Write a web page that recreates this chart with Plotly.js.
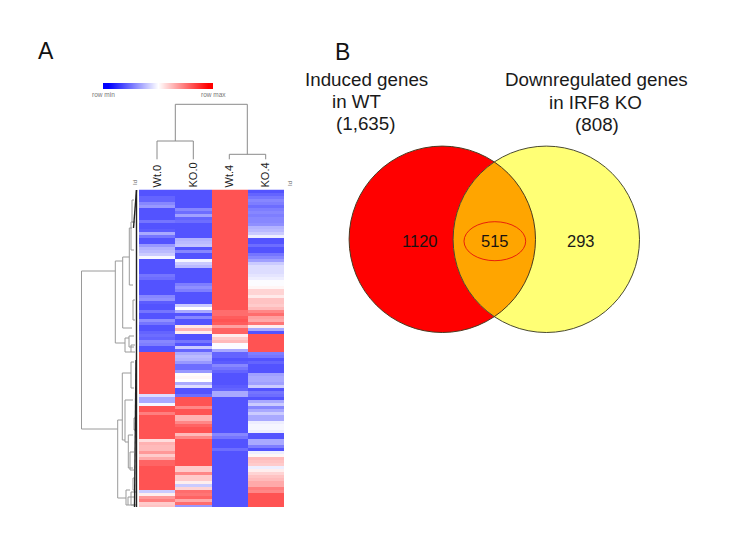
<!DOCTYPE html>
<html><head><meta charset="utf-8">
<script src="https://cdn.plot.ly/plotly-3.0.1.min.js"></script>
<style>html,body{margin:0;padding:0;background:#fff}</style></head>
<body><div id="c" style="width:733px;height:544px"></div>
<script>
const samples=["Wt.0","KO.0","Wt.4","KO.4"];
const wt0=[-1,-1,-.9,-.9,-.7,-.6,-1,-1,-1,-1,
-.8,-1,-1,-.95,-.5,-.8,-1,-1,-.6,-.45,
-.4,-.3,-.05,-1,-1,-1,-1,-1,-.8,-.85,
-1,-1,-1,-1,-1,-.7,-.65,-.95,-1,-1,
-.8,-1,-1,-.65,-.8,-1,-1,-.9,-.85,-.9,
-.7,-.75,-1,-1,1,1,1,1,1,1,
1,1,1,1,1,1,1,1,-.2,-.5,
-.5,-.05,1,1,.75,1,1,1,1,1,
1,1,1,.2,.45,.4,.4,.6,.3,.5,
.9,.9,1,1,1,1,1,1,1,1,
-.3,.1,.6,.75,.3,.35];
const ko0=[-1,-1,-1,-1,-1,-1,-.7,-.85,-.55,-.9,
-.85,-1,-1,-1,-1,-1,-.45,-.4,-.35,-1,
-.7,-1,-1,-.05,-.3,-.4,-1,-1,-1,-1,
-1,-.75,-.65,-.75,-1,-1,-1,-1,-.3,0,
-.5,-1,-.7,-1,-1,.15,.45,.1,-1,-1,
-.8,-1,-.3,-.9,-.5,-.4,-.45,-.6,-.85,-.85,
-.6,.02,.05,0,-.5,-.2,-1,-1,-.85,1,
1,1,.7,1,1,.45,.45,.7,.9,1,
1,.4,.7,1,1,1,1,1,1,1,
1,1,.3,.3,.7,.3,.3,.1,-.3,.25,
.85,.8,.9,.5,.85,-.6];
const wt4=[1,1,1,1,1,1,1,1,1,1,
1,1,1,1,1,1,1,1,1,1,
1,1,1,1,1,1,1,1,1,1,
1,1,1,1,1,1,1,1,1,1,
.85,.85,.95,1,.95,.55,.9,.9,.1,.3,
.4,-.02,-.02,-.5,-.9,-.9,-1,-.95,-.7,-.8,
-.9,-1,-1,-1,-1,-.95,-.9,-.5,-.5,-1,
-1,-1,-1,-1,-1,-1,-1,-1,-1,-1,
-1,-.7,-.8,-1,-1,-1,-.85,-1,-1,-1,
-1,-1,-1,-1,-1,-1,-1,-1,-1,-1,
-1,-1,-1,-1,-1,-1];
const ko4=[-1,-.9,-.8,-.7,-.75,-.85,-.75,-.7,-.75,-.7,
-.7,-.65,-.45,-.4,-.3,-.1,-1,-1,-.85,-1,
-1,-.8,-.7,-.55,-.3,-.2,-.2,-.2,-.15,-.1,
-.02,-.02,.05,.25,.25,.12,.35,.35,.3,.4,
.7,.85,.55,.5,.8,.1,-.5,-1,1,1,
1,1,1,1,-.75,-.8,-1,-.9,-1,-1,
-1,-.55,-.5,-.5,-.55,-.3,-1,-.8,-.85,-1,
-.5,-.3,-.7,-.5,-.3,-.5,-.5,-.1,-.05,-.05,
-.1,-1,-1,-.5,-.5,-.75,-1,-.1,.05,.4,
.35,.3,-.1,.1,.25,.35,.4,.5,.5,.75,
.7,1,1,1,1,1];
const legendStops=[-1,-.8,-.6,-.4,-.2,0,.2,.4,.6,.8,1];
const brX=[81.5,115.3,122.7,129.3,125,117.7,122.3,125,128.3,126,131,133,131,132,129,131,133,134,130,128,131];
const brTop=[271,261,257,228,338,420,373,400,435,490,362,300,222,200,336,345,478,418,452,497,492];
const brBot=[429,343,328,285,352,498,440,442,468,505,388,320,250,222,347,352,490,430,470,505,505];
const brEndA=[115.3,122.7,129.3,132,129,122.3,131,133,133,130,134,135,133,134,134,135,135,136,134,135,136];
const brEndB=[117.7,125,132,133,131,126,125,128.3,133,128,134,135,134,135,134,135,135,136,134,135,136];
const colX=[157,193.3,229.3,265.7,175.3,247.3];
const vennNumbers=["1120","515","293"];
const W=733,H=544;
const rows=wt0.map((_,i)=>i);
const z=rows.map(i=>[wt0[i],ko0[i],wt4[i],ko4[i]]);
let dx=[],dy=[];
brX.forEach((x,i)=>{
  dx.push(brEndA[i],x,x,brEndB[i],null);
  dy.push(brTop[i],brTop[i],brBot[i],brBot[i],null);
});
let tx=[colX[0],colX[0],colX[1],colX[1],null,colX[2],colX[2],colX[3],colX[3],null,colX[4],colX[4],colX[5],colX[5]];
let ty=[159.3,141,141,159.3,null,159.3,154.3,154.3,159.3,null,141,104.3,104.3,154.3];
const cx1=442.3,cx2=546.3,cy=239.3,r=93.2;
function arcPts(cx,a0,a1,n){let s=[];for(let k=0;k<=n;k++){const a=a0+(a1-a0)*k/n;s.push([cx+r*Math.cos(a),cy+r*Math.sin(a)]);}return s;}
const half=(cx2-cx1)/2, ang=Math.acos(half/r);
const lens=arcPts(cx1,-ang,ang,40).concat(arcPts(cx2,Math.PI-ang,Math.PI+ang,40));
const lensPath="M"+lens.map(p=>p[0].toFixed(2)+","+p[1].toFixed(2)).join(" L")+" Z";
const circ=(cx,fill,line)=>({type:"circle",xref:"x3",yref:"y3",x0:cx-r,x1:cx+r,y0:cy-r,y1:cy+r,fillcolor:fill,line:{color:line,width:line=="rgba(0,0,0,0)"?0:1}});
const scale=[[0,"#5353ff"],[.5,"#ffffff"],[1,"#ff5353"]];
const traces=[
 {type:"heatmap",x:samples,y:rows,z:z,zmin:-1,zmax:1,colorscale:scale,showscale:false,xaxis:"x",yaxis:"y",hoverinfo:"skip"},
 {type:"heatmap",z:[legendStops],zmin:-1,zmax:1,zsmooth:"best",colorscale:[[0,"#0000ff"],[.5,"#ffffff"],[1,"#ff0000"]],showscale:false,xaxis:"x2",yaxis:"y2",hoverinfo:"skip"},
 {type:"scatter",mode:"lines",x:dx,y:dy,line:{color:"#9a9a9a",width:1},xaxis:"x3",yaxis:"y3",hoverinfo:"skip",showlegend:false},
 {type:"scatter",mode:"lines",x:tx,y:ty,line:{color:"#8a8a8a",width:1},xaxis:"x3",yaxis:"y3",hoverinfo:"skip",showlegend:false},
 {type:"scatter",mode:"lines",x:[136.5,136.5,null,136.5,133.5,null,136,134.5],y:[190,507,null,190,228,null,360,507],line:{color:"#222",width:1.4},xaxis:"x3",yaxis:"y3",hoverinfo:"skip",showlegend:false}
];
const F="Liberation Sans, Arial, sans-serif";
const ann=(x,y,t,size,color,extra)=>Object.assign({xref:"x3",yref:"y3",x:x,y:y,text:t,showarrow:false,xanchor:"center",yanchor:"middle",font:{family:F,size:size,color:color||"#1a1a1a"}},extra||{});
const layout={width:W,height:H,margin:{l:0,r:0,t:0,b:0},paper_bgcolor:"#fff",plot_bgcolor:"rgba(0,0,0,0)",showlegend:false,
 xaxis:{domain:[139/W,284/W],side:"top",type:"category",ticks:"",showgrid:false,zeroline:false,showline:false,tickangle:-90,tickfont:{family:F,size:11,color:"#222"},anchor:"y",ticklabelstandoff:1},
 yaxis:{domain:[1-507/H,1-189.5/H],range:[105.5,-.5],visible:false,anchor:"x"},
 xaxis2:{domain:[103/W,213/W],visible:false,anchor:"y2"},
 yaxis2:{domain:[1-89/H,1-83/H],visible:false,anchor:"x2"},
 xaxis3:{domain:[0,1],range:[0,W],visible:false,anchor:"y3",fixedrange:true},
 yaxis3:{domain:[0,1],range:[H,0],visible:false,anchor:"x3",fixedrange:true},
 shapes:[circ(cx1,"#ff0000","rgba(0,0,0,0)"),circ(cx2,"#ffff75","rgba(0,0,0,0)"),
  {type:"path",xref:"x3",yref:"y3",path:lensPath,fillcolor:"#ffa500",line:{width:0}},
  circ(cx1,"rgba(0,0,0,0)","#4a3a20"),circ(cx2,"rgba(0,0,0,0)","#4a4a30"),
  {type:"circle",xref:"x3",yref:"y3",x0:464,x1:525.7,y0:221.7,y1:260.7,fillcolor:"rgba(0,0,0,0)",line:{color:"#e8200a",width:1}}],
 annotations:[
  ann(46,51,"A",23,"#111"),ann(342,52,"B",23,"#111"),
  ann(366,79,"Induced genes",18.8),ann(357,101,"in WT",18.8),ann(366,123,"(1,635)",18.8),
  ann(596,79,"Downregulated genes",18.8),ann(595.5,102,"in IRF8 KO",18.8),ann(597,124,"(808)",18.8),
  ann(419,241,vennNumbers[0],16.5,"#1a1210"),ann(494.5,241,vennNumbers[1],16.5,"#1a1210"),ann(580.5,241,vennNumbers[2],16.5),
  ann(103,94,"row min",6.5,"#777"),ann(213,94,"row max",6.5,"#777"),
  ann(135,183,"Id",6,"#666",{textangle:-90}),ann(290,184,"Id",6,"#666",{textangle:-90})
 ]};
Plotly.newPlot("c",traces,layout,{displayModeBar:false,staticPlot:true});
</script></body></html>
